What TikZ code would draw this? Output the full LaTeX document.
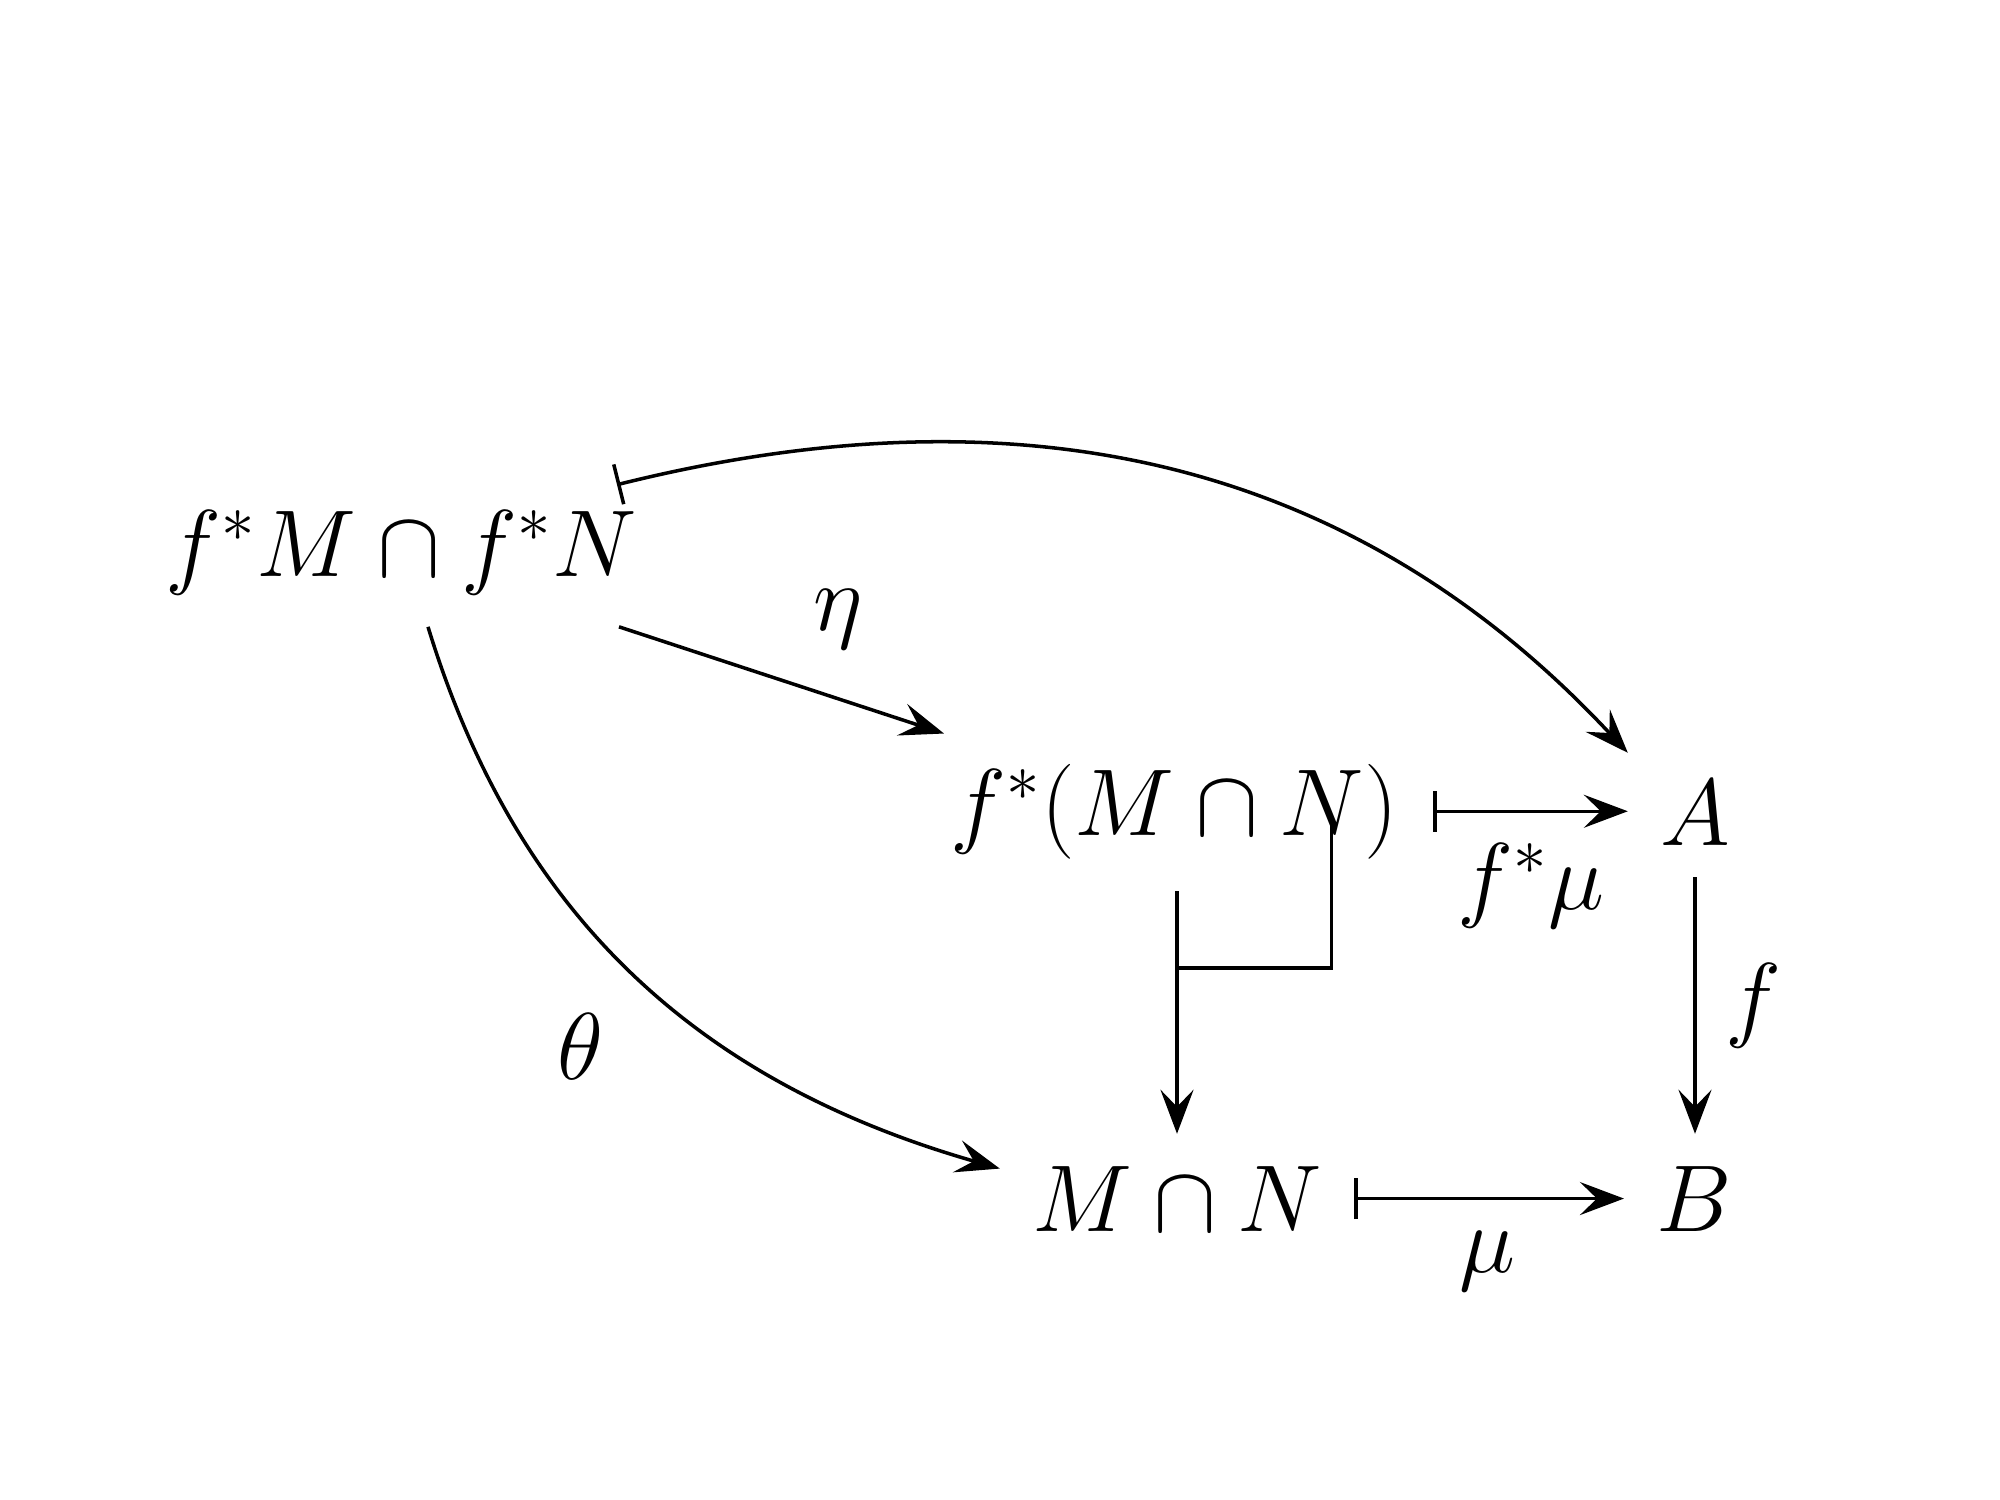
\RequirePackage{fix-cm}
\documentclass[tikz,border=0pt]{standalone}
\usetikzlibrary{arrows.meta,calc}
\begin{document}
\begin{tikzpicture}[x=0.01cm,y=-0.01cm,
  every node/.style={font=\fontsize{27pt}{32pt}\selectfont, inner sep=9pt, anchor=base},
  conn/.style={line width=1pt},
  arr/.style={conn, arrows={-Stealth[length=4.4mm,width=3.3mm,inset=1.7mm]}},
  mapsto/.style={conn, arrows={Bar[width=4.1mm]-Stealth[length=4.4mm,width=3.3mm,inset=1.7mm]}}]
\fill[white] (0,0) rectangle (2000,1500);
\useasboundingbox (0,0) rectangle (2000,1500);

% objects
\node (n1) at (401,576) {$f^*M\cap f^*N$};
\node (n2) at (1174,835) {$f^*(M\cap N)$};
\node (A)  at (1695,845) {$A$};
\node (MN) at (1177,1231) {$M\cap N$};
\node (B)  at (1694,1231) {$B$};

% labels
\node (leta)   at (838,630)  {$\eta$};
\node (ltheta) at (580,1079) {$\theta$};
\node (lfmu)   at (1531,909) {$f^*\mu$};
\node (lf)     at (1753,1029) {$f$};
\node (lmu)    at (1487,1272) {$\mu$};

% connectors
\draw[arr] ($(n1.south)+(218,0)$) -- ($(n2.north)+(-230,2)$);
\draw[arr] ($(n1.south)+(27,0)$) to[out=-73,in=164] ($(MN.west)+(0,-30)$);
\draw[mapsto] ($(n1.north)+(216,7)$) to[out=14,in=133] ($(A.north west)+(0,5)$);
\draw[mapsto] ($(n2.east)+(3,0)$) -- (n2.east -| A.west);
\draw[arr] (MN.north |- n2.south) -- (MN.north);
\coordinate (kt) at ($(n2.east)+(-99,14)$);
\coordinate (kb) at ($(MN.north)+(0,-166)$);
\draw[conn] (kt) |- (kb);
\draw[arr] (A.south) -- (A.south |- B.north);
\draw[mapsto] (MN.east) -- (B.west);
\end{tikzpicture}
\end{document}
